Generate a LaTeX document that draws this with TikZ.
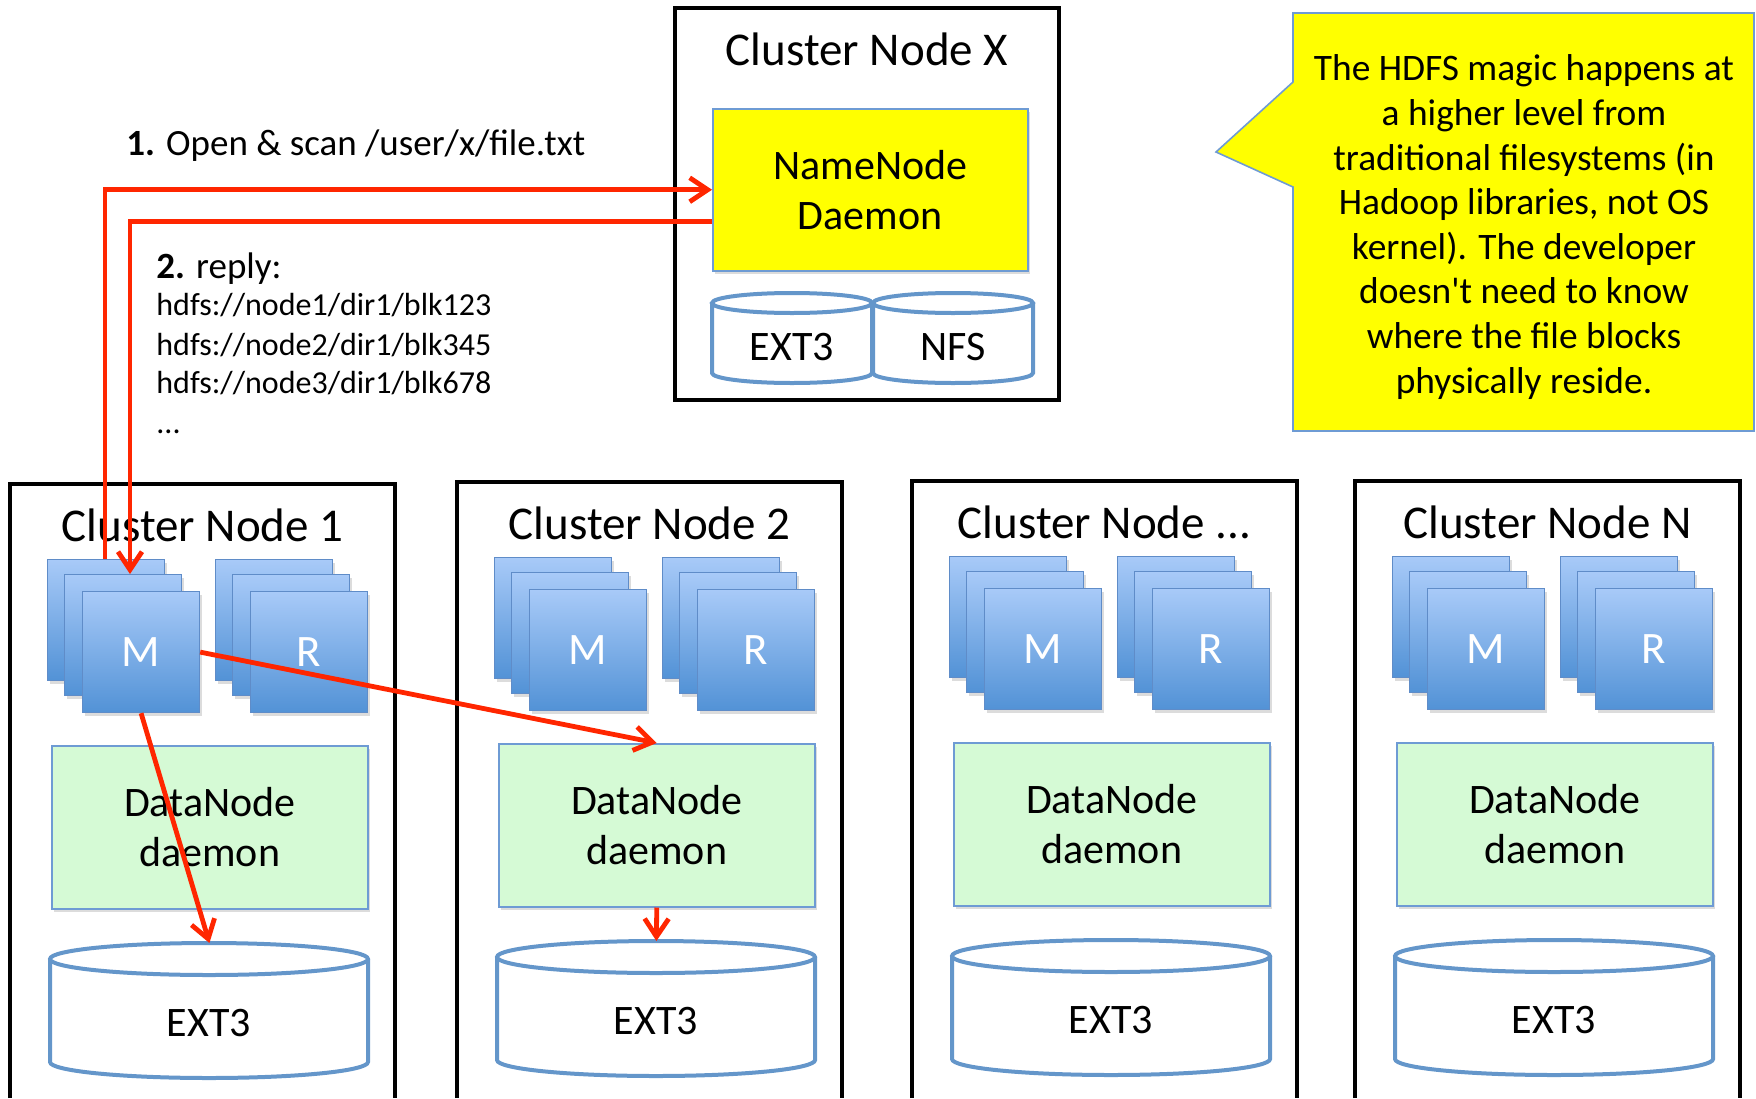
\documentclass[tikz,border=0pt]{standalone}
\usepackage{fontspec}
\newfontfamily\calib{Carlito}
\usetikzlibrary{arrows.meta,shadows}

\definecolor{arrowred}{RGB}{255,38,0}
\definecolor{noteyellow}{RGB}{255,255,0}
\definecolor{dngreen}{RGB}{213,250,213}
\definecolor{edgeblue}{RGB}{110,155,212}
\definecolor{drumblue}{RGB}{100,150,202}
\definecolor{tasktop}{RGB}{168,202,248}
\definecolor{taskbot}{RGB}{82,146,214}
\definecolor{taskedge}{RGB}{95,140,200}

% storage drum: left x, right x, top-ellipse y, bottom-ellipse y, x radius, y radius, line width
\newcommand\drawdrum[7]{%
  \draw[draw=drumblue, line width=#7, fill=white]
    (#1,#3) -- (#1,#4) arc[start angle=180, end angle=360, x radius=#5, y radius=#6] -- (#2,#3);
  \draw[draw=drumblue, line width=#7, fill=white]
    ({(#1+#2)/2},#3) ellipse[x radius=#5, y radius=#6];
}

\tikzset{
  frame/.style={draw=black, line width=2.1pt},
  titletext/.style={font=\calib\fontsize{23.5}{28}\selectfont, inner sep=0pt, anchor=base},
  boxtext/.style={font=\calib\fontsize{21}{25}\selectfont, align=center},
  softshadow/.style={drop shadow={shadow xshift=1pt, shadow yshift=-1.6pt, opacity=0.28}},
  taskcard/.style={rectangle, anchor=north west, minimum width=58.5pt, minimum height=60.5pt,
    inner sep=0pt, top color=tasktop, bottom color=taskbot, draw=taskedge, line width=0.6pt,
    softshadow, text=white, font=\calib\fontsize{22.5}{26}\selectfont},
  namebox/.style={rectangle, anchor=north west, minimum width=157.5pt, minimum height=81pt,
    inner sep=0pt, fill=noteyellow, draw=edgeblue, line width=0.75pt, softshadow, boxtext},
  dnbox/.style={rectangle, anchor=north west, minimum width=158pt, minimum height=81.5pt,
    inner sep=0pt, fill=dngreen, draw=edgeblue, line width=0.75pt, softshadow, boxtext},
  drumspot/.style={rectangle, anchor=north west, inner sep=0pt},
  drumlabel/.style={font=\calib\fontsize{21}{25}\selectfont, inner sep=0pt},
  plain/.style={anchor=base west, inner sep=0pt, font=\calib\fontsize{18.5}{22}\selectfont},
  blockline/.style={anchor=base west, inner sep=0pt, font=\calib\fontsize{16}{19}\selectfont},
  flow/.style={draw=arrowred, line width=2.4pt, -{Straight Barb[length=9pt, width=12pt]}}
}

\begin{document}
\begin{tikzpicture}[x=0.5pt, y=-0.5pt]
\useasboundingbox (0,0) rectangle (1756,1098);

% master machine with the NameNode
\draw[frame] (675,8) rectangle (1059,400);
\node[titletext] (tx) at (867,65) {Cluster Node X};
\node[namebox] (nn) at (712,108) {NameNode\\Daemon};
\drawdrum{712}{872}{303}{373}{40pt}{5pt}{2pt}
\drawdrum{873}{1033}{303}{373}{40pt}{5pt}{2pt}
\node[drumlabel] (extx) at (792,347) {EXT3};
\node[drumlabel] (nfsx) at (953,347) {NFS};

% explanatory callout
\filldraw[fill=noteyellow, draw=edgeblue, line width=0.8pt]
  (1293,13) -- (1754,13) -- (1754,431) -- (1293,431) -- (1293,187) -- (1216,152) -- (1293,82) -- cycle;
\node[font=\calib\fontsize{18.7}{22.3}\selectfont, align=center, inner sep=0pt] (note) at (1524,227)
  {The HDFS magic happens at\\a higher level from\\traditional filesystems (in\\Hadoop libraries, not OS\\kernel). The developer\\doesn't need to know\\where the file blocks\\physically reside.};

% worker machines
\foreach \L/\T/\k in {10/484/1, 457/482/2, 912/481/3, 1355/481/4} {
  \draw[frame] (\L,1098) -- (\L,\T) -- ({\L+385},\T) -- ({\L+385},1098);
  \node[taskcard] (ma\k) at ({\L+37},{\T+75}) {};
  \node[taskcard] (mb\k) at ({\L+54},{\T+90}) {};
  \node[taskcard] (mc\k) at ({\L+72},{\T+107}) {M};
  \node[taskcard] (ra\k) at ({\L+205},{\T+75}) {};
  \node[taskcard] (rb\k) at ({\L+222},{\T+90}) {};
  \node[taskcard] (rc\k) at ({\L+240},{\T+107}) {R};
  \node[dnbox] (dn\k) at ({\L+41},{\T+261}) {DataNode\\daemon};
  \drawdrum{\L+40}{\L+358}{\T+475}{\T+578}{79.5pt}{8pt}{2pt}
  \node[drumspot, minimum width=159pt, minimum height=67.5pt] (drum\k) at ({\L+40},{\T+459}) {};
  \node[drumlabel] (ext\k) at ({\L+199},{\T+539}) {EXT3};
}
\node[titletext] (t1) at (202.5,541) {Cluster Node 1};
\node[titletext] (t2) at (649.5,539) {Cluster Node 2};
\node[titletext] (t3) at (1104.5,538) {Cluster Node ...};
\node[titletext] (t4) at (1547.5,538) {Cluster Node N};

% request / reply texts
\node[plain] (ask) at (126,155) {\textbf{1.} Open \& scan /user/x/file.txt};
\node[plain] (answer) at (156,278) {\textbf{2.} reply:};
\node[blockline] (blk1) at (156,315) {hdfs://node1/dir1/blk123};
\node[blockline] (blk2) at (156,355) {hdfs://node2/dir1/blk345};
\node[blockline] (blk3) at (156,393) {hdfs://node3/dir1/blk678};
\node[blockline] (more) at (156,433) {...};

% data flow
\draw[flow] ([xshift=29pt]ma1.north west) |- (nn.west);
\draw[flow] ([yshift=-16pt]nn.west) -| ([xshift=33pt]mb1.north west);
\draw[flow] (mc1.east) -- (dn2.north);
\draw[flow] (mc1.south) -- (drum1.north);
\draw[flow] (dn2.south) -- (drum2.north);
\end{tikzpicture}
\end{document}
